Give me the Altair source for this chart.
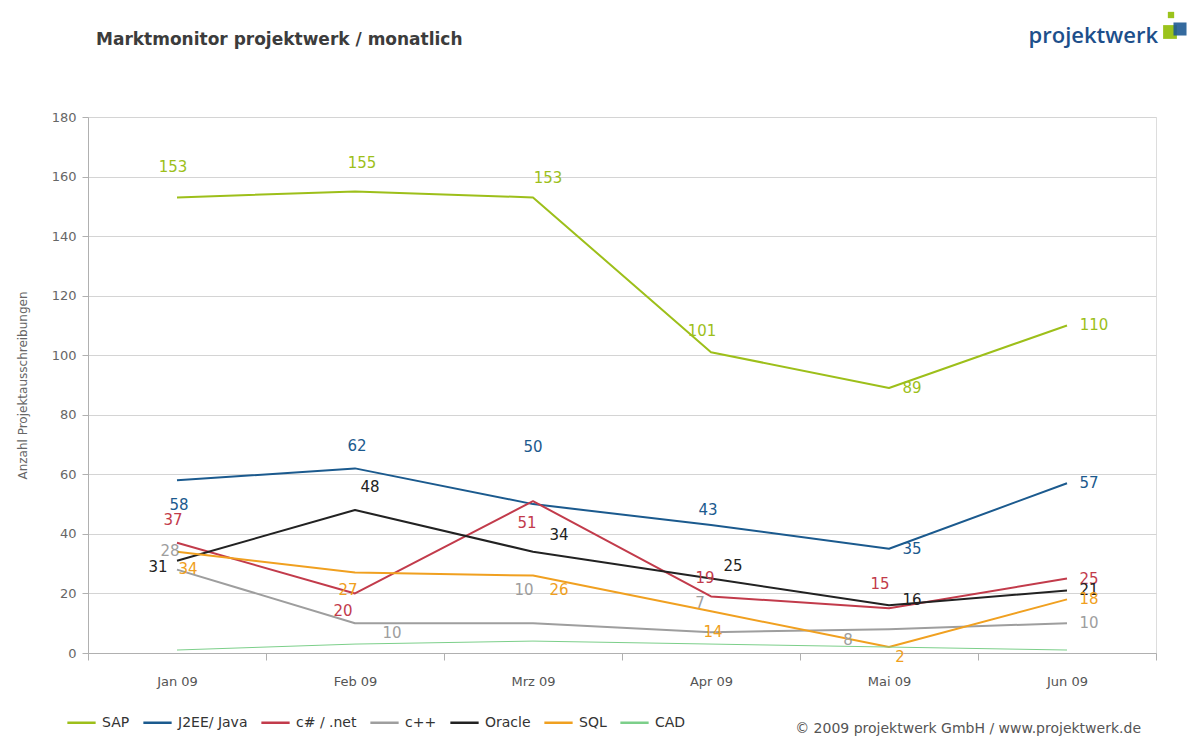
import altair as alt
import pandas as pd

months = ["Jan 09", "Feb 09", "Mrz 09", "Apr 09", "Mai 09", "Jun 09"]
series = ["SAP", "J2EE/ Java", "c# / .net", "c++", "Oracle", "SQL", "CAD"]

sap = [153, 155, 153, 101, 89, 110]
java = [58, 62, 50, 43, 35, 57]
csharp = [37, 20, 51, 19, 15, 25]
cpp = [28, 10, 10, 7, 8, 10]
oracle = [31, 48, 34, 25, 16, 21]
sql = [34, 27, 26, 14, 2, 18]
cad = [1, 3, 4, 3, 2, 1]

colors = ["#9dbf1a", "#1b5a8e", "#c23b4b", "#9e9e9e", "#222222", "#f0a020", "#7ccf8a"]

# where each value label sits relative to its point (px), as in the original
label_nudge = {
    "SAP": ([-4, 7, 15, -9, 23, 27], [-30, -28, -19, -21, 0, 0]),
    "J2EE/ Java": ([2, 2, 0, -3, 23, 22], [25, -22, -57, -15, 0, 0]),
    "c# / .net": ([-4, -12, -6, -6, -9, 22], [-23, 18, 22, -18, -24, 0]),
    "c++": ([-7, 37, -9, -11, -41, 22], [-19, 10, -33, -29, 11, 0]),
    "Oracle": ([-19, 15, 26, 22, 23, 22], [6, -23, -17, -13, -5, 0]),
    "SQL": ([11, -7, 26, 2, 11, 22], [17, 17, 14, 21, 10, 0]),
}

W, H = 1068, 536
Y_MAX = 180
BAND = W / len(months)

values = [sap, java, csharp, cpp, oracle, sql, cad]
rows = []
for name, vals in zip(series, values):
    ndx, ndy = label_nudge.get(name, ([0] * 6, [0] * 6))
    for m, v, a, b in zip(months, vals, ndx, ndy):
        rows.append({
            "month": m, "series": name, "value": v,
            # text offsets: x from band start, y converted to data units
            "xo": BAND / 2 + a,
            "label_y": v - b * Y_MAX / H,
        })
df = pd.DataFrame(rows)

FONT = "DejaVu Sans"

x_enc = alt.X(
    "month:N",
    sort=months,
    title=None,
    bandPosition=0.5,
    scale=alt.Scale(type="band", domain=months, paddingInner=0, paddingOuter=0),
    axis=alt.Axis(
        tickBand="extent", labelAngle=0, labelPadding=15, tickSize=7,
        tickColor="#b0b0b0", domainColor="#b0b0b0", labelColor="#555555",
        labelFontSize=13, labelFont=FONT, grid=False,
    ),
)
y_scale = alt.Scale(domain=[0, Y_MAX], nice=False)
y_axis = alt.Axis(
    values=list(range(0, Y_MAX + 1, 20)), tickSize=6, labelPadding=6,
    tickColor="#b0b0b0", domainColor="#b0b0b0", gridColor="#d4d4d4",
    labelColor="#666666", labelFontSize=13, labelFont=FONT,
    titleColor="#666666", titleFontSize=12, titleFont=FONT,
    titleFontWeight="normal", titlePadding=22,
)
y_title = "Anzahl Projektausschreibungen"

lines = alt.Chart(df).mark_line(strokeJoin="round").encode(
    x=x_enc,
    y=alt.Y("value:Q", title=y_title, scale=y_scale, axis=y_axis),
    color=alt.Color(
        "series:N",
        sort=series,
        scale=alt.Scale(domain=series, range=colors),
        legend=alt.Legend(
            title=None, orient="none", legendX=-22, legendY=590,
            direction="horizontal", symbolType="stroke", symbolSize=800,
            symbolStrokeWidth=2.5, labelFontSize=14, labelFont=FONT,
            labelColor="#333333", columnPadding=8, labelOffset=5,
        ),
    ),
    strokeWidth=alt.condition(alt.datum.series == "CAD", alt.value(1), alt.value(2)),
)

labels = []
for name, col in zip(series, colors):
    if name not in label_nudge:
        continue
    labels.append(
        alt.Chart(df).transform_filter(alt.datum.series == name)
        .mark_text(fontSize=15, font=FONT, color=col)
        .encode(
            x=x_enc,
            y=alt.Y("label_y:Q", title=y_title, scale=y_scale, axis=y_axis),
            xOffset=alt.XOffset("xo:Q", scale=None),
            text="value:Q",
        )
    )

one = pd.DataFrame({"t": ["Marktmonitor projektwerk / monatlich"]})
title = alt.Chart(one).mark_text(
    align="left", baseline="middle", fontSize=17, font=FONT,
    fontWeight="bold", color="#3c3c3c",
).encode(text="t:N", x=alt.value(8), y=alt.value(-77))

logo_df = pd.DataFrame({"t": ["projektwerk"]})
logo = alt.Chart(logo_df).mark_text(
    align="right", baseline="middle", fontSize=22, font="Open Sans",
    fontWeight=600, color="#1d4f8b",
).encode(text="t:N", x=alt.value(1070), y=alt.value(-81))

sq_small = alt.Chart(logo_df).mark_square(color="#9bc31c", opacity=1, size=40).encode(
    x=alt.value(1083), y=alt.value(-102))
sq_green = alt.Chart(logo_df).mark_square(color="#9bc31c", opacity=1, size=190).encode(
    x=alt.value(1082), y=alt.value(-85))
sq_blue = alt.Chart(logo_df).mark_square(color="#1f5a93", opacity=0.9, size=170).encode(
    x=alt.value(1092), y=alt.value(-88))

copy_df = pd.DataFrame({"t": ["\u00a9 2009 projektwerk GmbH / www.projektwerk.de"]})
copyright = alt.Chart(copy_df).mark_text(
    align="right", baseline="middle", fontSize=14, font=FONT, color="#555555",
).encode(text="t:N", x=alt.value(1053), y=alt.value(612))

chart = alt.layer(
    lines, *labels, title, logo, sq_small, sq_green, sq_blue, copyright
).properties(
    width=W,
    height=H,
    autosize=alt.AutoSizeParams(type="none"),
    padding={"left": 80, "top": 109, "right": 36, "bottom": 83},
).configure_view(stroke=None).configure(background="white")

chart.save("out.html", embed_options={"renderer": "svg", "actions": False})
